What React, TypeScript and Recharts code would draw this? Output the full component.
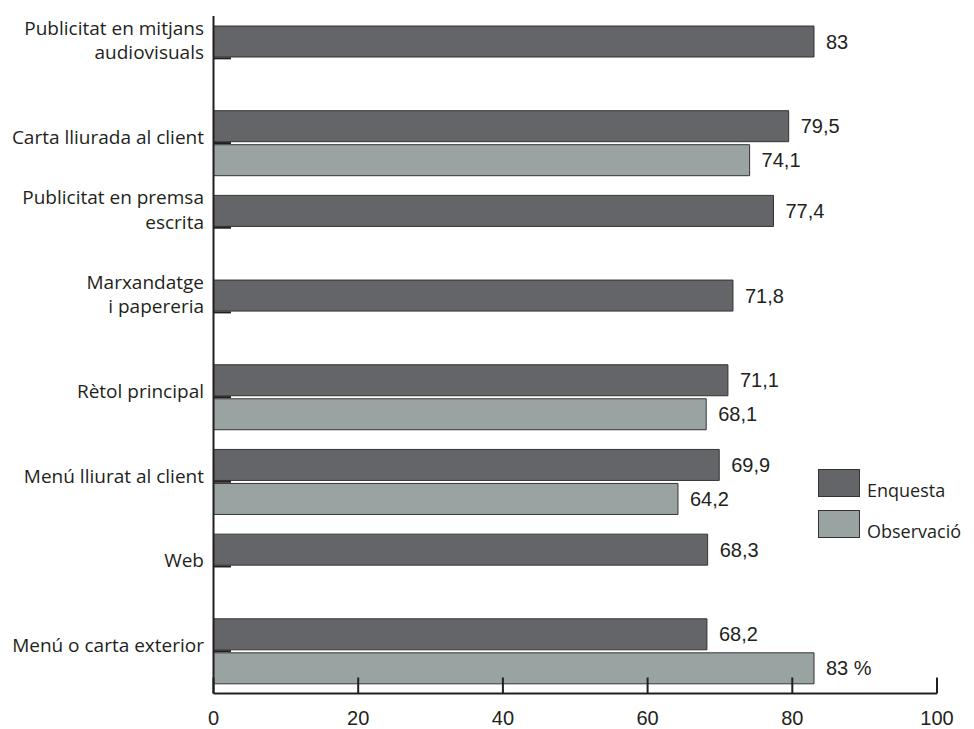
import { BarChart, Bar, XAxis, YAxis, LabelList, Legend } from "recharts"

// categories: "\n" marks where the axis label wraps
const categories = [
  "Publicitat en mitjans\naudiovisuals",
  "Carta lliurada al client",
  "Publicitat en premsa\nescrita",
  "Marxandatge\ni papereria",
  "Rètol principal",
  "Menú lliurat al client",
  "Web",
  "Menú o carta exterior",
]

const enquesta = [83, 79.5, 77.4, 71.8, 71.1, 69.9, 68.3, 68.2]
const observacio = [null, 74.1, null, null, 68.1, 64.2, null, 83]
const observacioSuffix = ["", "", "", "", "", "", "", " %"]

const xTicks = [0, 20, 40, 60, 80, 100]

const DARK = "#646569"
const LIGHT = "#99a4a2"
const INK = "#231f20"

const fmt = (v: number | null) =>
  v == null ? undefined : String(v).replace(".", ",")

const rows = categories.map((category, i) => ({
  category,
  enquesta: enquesta[i],
  observacio: observacio[i],
  enquestaLabel: fmt(enquesta[i]),
  observacioLabel:
    observacio[i] == null ? undefined : fmt(observacio[i]) + observacioSuffix[i],
}))

function CategoryTick({ x, y, payload }: any) {
  const lines = String(payload.value).split("\n")
  return (
    <g>
      <line x1={x} x2={x + 17.5} y1={y} y2={y} stroke={INK} strokeWidth={2} />
      {lines.map((line, i) => (
        <text
          key={i}
          x={x - 9.5}
          y={y + 1 - (lines.length - 1 - i) * 24.5}
          textAnchor="end"
          fontFamily="Open Sans"
          fontSize={19}
          fill={INK}
        >
          {line}
        </text>
      ))}
    </g>
  )
}

function ValueTick({ x, y, payload }: any) {
  return (
    <g>
      <line x1={x} x2={x} y1={y - 16} y2={y} stroke={INK} strokeWidth={2} />
      <text
        x={x}
        y={y + 31}
        textAnchor="middle"
        fontFamily="Liberation Sans"
        fontSize={20}
        fill={INK}
      >
        {payload.value}
      </text>
    </g>
  )
}

function LegendBox() {
  const items = [
    { name: "Enquesta", color: DARK },
    { name: "Observació", color: LIGHT },
  ]
  return (
    <svg width={150} height={72} style={{ overflow: "visible" }}>
      {items.map((it, i) => (
        <g key={it.name} transform={`translate(0, ${i * 41})`}>
          <rect x={0.5} y={0.5} width={41} height={27} fill={it.color} stroke="#333" />
          <text x={49} y={28} fontFamily="Open Sans" fontSize={18} fill={INK}>
            {it.name}
          </text>
        </g>
      ))}
    </svg>
  )
}

export default function App() {
  return (
    <div style={{ position: "absolute", left: 0, top: 0 }}>
      <BarChart
        width={974}
        height={729}
        data={rows}
        layout="vertical"
        margin={{ top: 16, right: 37, bottom: 0, left: 0 }}
        barGap={3}
      >
        <XAxis
          type="number"
          domain={[0, 100]}
          ticks={xTicks}
          height={35.5}
          tickSize={0}
          tickMargin={0}
          tick={<ValueTick />}
          axisLine={{ stroke: INK, strokeWidth: 2 }}
        />
        <YAxis
          type="category"
          dataKey="category"
          width={213.5}
          interval={0}
          tickSize={0}
          tickMargin={0}
          tick={<CategoryTick />}
          axisLine={{ stroke: INK, strokeWidth: 2 }}
        />
        <Legend
          layout="horizontal"
          verticalAlign="middle"
          align="center"
          content={<LegendBox />}
          wrapperStyle={{ position: "absolute", left: 818, top: 469, width: 150 }}
        />
        <Bar
          dataKey="enquesta"
          name="Enquesta"
          fill={DARK}
          stroke="#333"
          strokeWidth={1}
          barSize={31}
          isAnimationActive={false}
        >
          <LabelList
            dataKey="enquestaLabel"
            position="right"
            offset={12}
            fontFamily="Liberation Sans"
            fontSize={20}
            fill={INK}
          />
        </Bar>
        <Bar
          dataKey="observacio"
          name="Observació"
          fill={LIGHT}
          stroke="#333"
          strokeWidth={1}
          barSize={31}
          isAnimationActive={false}
        >
          <LabelList
            dataKey="observacioLabel"
            position="right"
            offset={12}
            fontFamily="Liberation Sans"
            fontSize={20}
            fill={INK}
          />
        </Bar>
      </BarChart>
    </div>
  )
}
